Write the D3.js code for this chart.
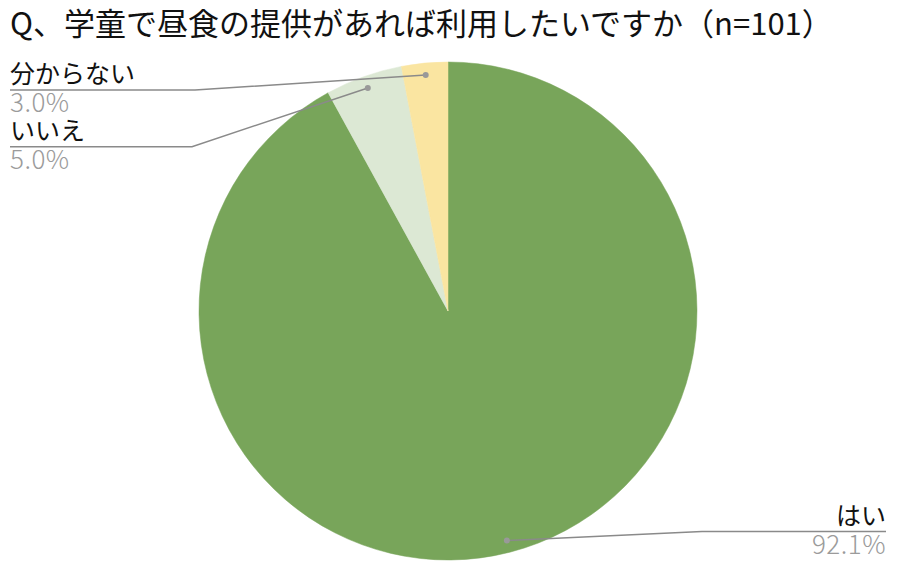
<!DOCTYPE html>
<html>
<head>
<meta charset="utf-8">
<script src="https://cdn.jsdelivr.net/npm/d3@7"></script>
<style>
  body { margin: 0; background: #fff; }
  text { font-family: "Noto Sans CJK JP", "Noto Sans", sans-serif; }
</style>
</head>
<body>
<div id="chart"></div>
<script>
// data
const title = "Q、学童で昼食の提供があれば利用したいですか（n=101）";
const answers = ["はい", "いいえ", "分からない"];
const shares = [92.1, 5.0, 3.0];
const sliceColors = ["#78a55a", "#dce8d4", "#fae5a1"];

const width = 900;
const height = 573;
const cx = 448, cy = 311, radius = 249;

const svg = d3.select("#chart")
	.append("svg")
	.attr("width", width)
	.attr("height", height);

svg.append("text")
	.attr("x", 10)
	.attr("y", 35)
	.attr("font-size", 31)
	.attr("fill", "#111")
	.text(title);

const data = answers.map((a, i) => ({ answer: a, share: shares[i], color: sliceColors[i] }));

const pie = d3.pie()
	.sort(null)
	.value(d => d.share);

const arc = d3.arc().innerRadius(0).outerRadius(radius);
const dotArc = d3.arc().innerRadius(237).outerRadius(237);

const arcs = pie(data);

const pieGroup = svg.append("g")
	.attr("transform", `translate(${cx},${cy})`);

pieGroup.selectAll("path")
	.data(arcs)
	.enter()
	.append("path")
	.attr("d", arc)
	.attr("fill", d => d.data.color)
	.attr("stroke", d => d.data.color)
	.attr("stroke-width", 0.5);

// labels: left side stacked from top, right side next to the dot
const leftArcs = arcs.filter(d => (d.startAngle + d.endAngle) / 2 > Math.PI)
	.sort((a, b) => b.startAngle - a.startAngle);

const labelInfo = arcs.map(d => {
	const [dx, dy] = dotArc.centroid(d);
	const px = cx + dx, py = cy + dy;
	const mid = (d.startAngle + d.endAngle) / 2;
	if (mid > Math.PI) {
		const i = leftArcs.indexOf(d);
		const uy = 90 + i * 56.7;
		return { d, px, py, uy, x0: 10, bend: 195 - i * 3, anchor: "start" };
	}
	return { d, px, py, uy: py - 9, x0: 886, bend: 702, anchor: "end" };
});

const labels = svg.append("g");

labels.selectAll("path")
	.data(labelInfo)
	.enter()
	.append("path")
	.attr("d", l => `M${l.px},${l.py}L${l.bend},${l.uy}L${l.x0},${l.uy}`)
	.attr("fill", "none")
	.attr("stroke", "#8a8a8a")
	.attr("stroke-width", 1.5);

labels.selectAll("circle")
	.data(labelInfo)
	.enter()
	.append("circle")
	.attr("cx", l => l.px)
	.attr("cy", l => l.py)
	.attr("r", 3)
	.attr("fill", "#999");

labels.selectAll("text.name")
	.data(labelInfo)
	.enter()
	.append("text")
	.attr("class", "name")
	.attr("x", l => l.x0)
	.attr("y", l => l.uy - 7)
	.attr("text-anchor", l => l.anchor)
	.attr("font-size", 25)
	.attr("fill", "#111")
	.text(l => l.d.data.answer);

labels.selectAll("text.pct")
	.data(labelInfo)
	.enter()
	.append("text")
	.attr("class", "pct")
	.attr("x", l => l.x0)
	.attr("y", l => l.uy + 22)
	.attr("text-anchor", l => l.anchor)
	.attr("font-size", 26)
	.attr("font-weight", 300)
	.attr("letter-spacing", 0.5)
	.attr("fill", "#9b9b9b")
	.text(l => l.d.data.share.toFixed(1) + "%");
</script>
</body>
</html>
